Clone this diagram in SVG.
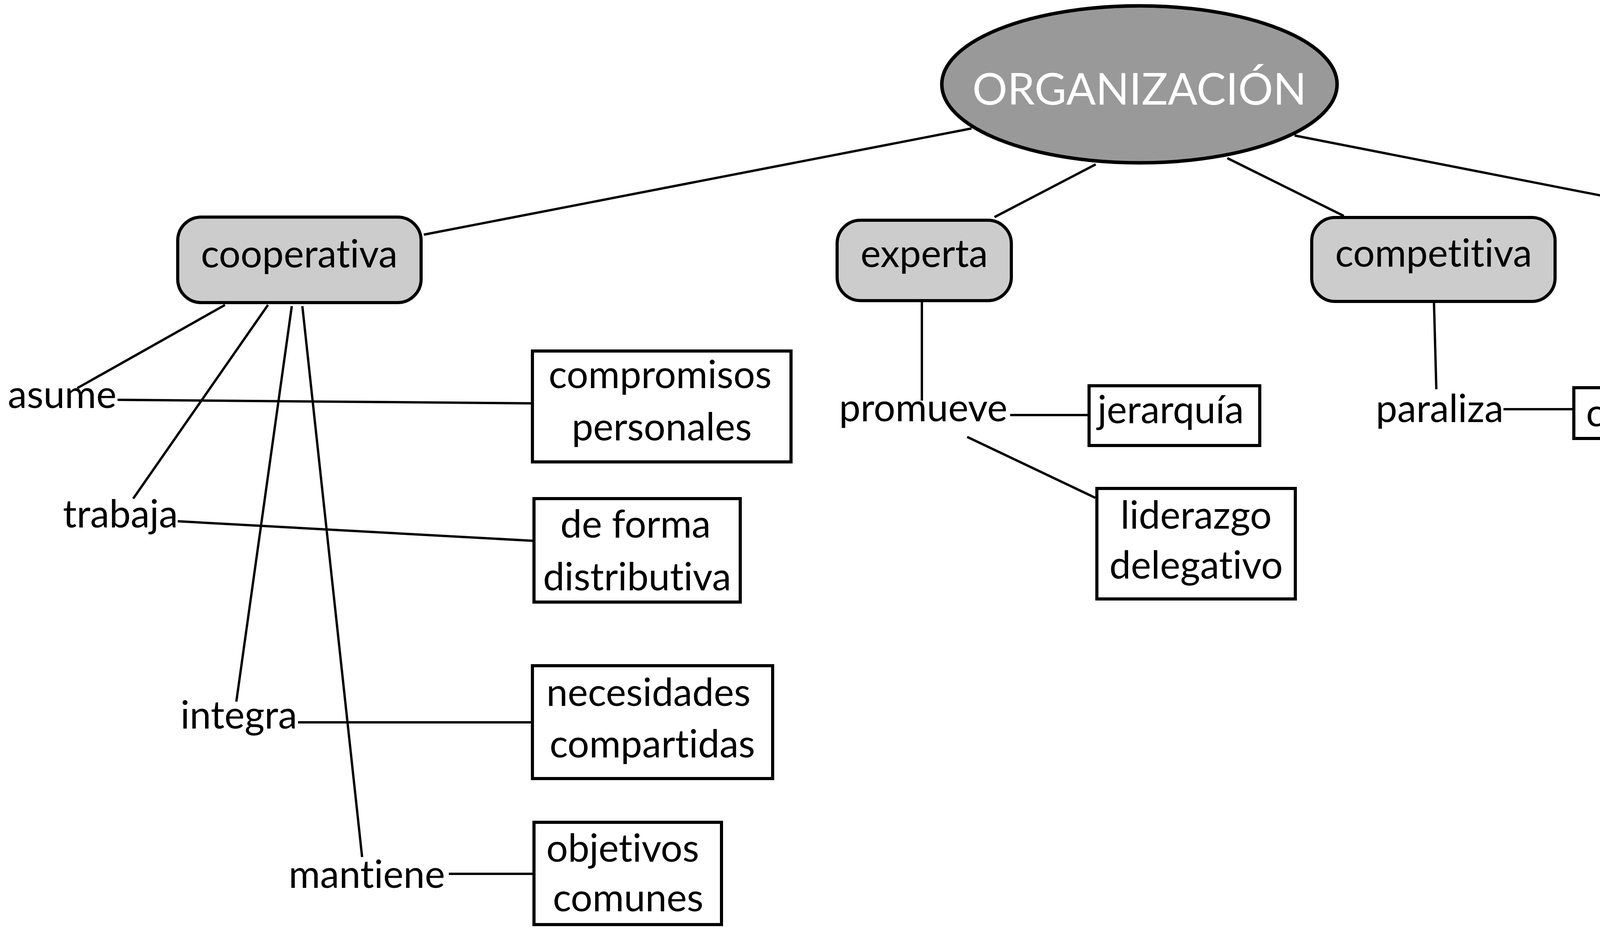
<svg xmlns="http://www.w3.org/2000/svg" width="5885" height="2387" viewBox="0 0 5885 2387">
<style>
.t{font-family:Lato,"Noto Sans","Liberation Sans",sans-serif;font-size:98px;fill:#000;font-variant-ligatures:none;font-feature-settings:"liga" 0,"clig" 0}
.c{text-anchor:middle}
.main{fill:#cccccc;stroke:#000;stroke-width:8}
.box{fill:#fff;stroke:#000;stroke-width:8}
.ln{stroke:#000;stroke-width:6;fill:none}
</style>
<rect width="5885" height="2387" fill="#fff"/>
<g id="connectors">
<line class="ln" x1="2487" y1="329" x2="1085" y2="601"/>
<line class="ln" x1="2805" y1="421" x2="2546" y2="556"/>
<line class="ln" x1="3142" y1="405" x2="3440" y2="553"/>
<line class="ln" x1="3314" y1="347" x2="4584" y2="596"/>
<line class="ln" x1="576" y1="781" x2="198" y2="994"/>
<line class="ln" x1="686" y1="781" x2="341" y2="1277"/>
<line class="ln" x1="747" y1="784" x2="605" y2="1797"/>
<line class="ln" x1="774" y1="784" x2="927" y2="2195"/>
<line class="ln" x1="301" y1="1024" x2="1359" y2="1033"/>
<line class="ln" x1="455" y1="1335" x2="1363" y2="1385"/>
<line class="ln" x1="763" y1="1850" x2="1359" y2="1850"/>
<line class="ln" x1="1149" y1="2238" x2="1366" y2="2238"/>
<line class="ln" x1="2360" y1="774" x2="2360" y2="1026"/>
<line class="ln" x1="2586" y1="1063" x2="2784" y2="1063"/>
<line class="ln" x1="2476" y1="1119" x2="2804" y2="1275"/>
<line class="ln" x1="3671" y1="776" x2="3677" y2="997"/>
<line class="ln" x1="3849" y1="1048" x2="4025" y2="1048"/>
<line class="ln" x1="4918" y1="768" x2="4918" y2="997"/>
<line class="ln" x1="5138" y1="1032" x2="5299" y2="1043"/>
</g>
<g id="organizacion">
<ellipse cx="2917" cy="216" rx="506" ry="201" fill="#999999" stroke="#000" stroke-width="9"/>
<text class="t c" x="2917" y="268" style="font-size:112px;fill:#fff">ORGANIZACIÓN</text>
</g>
<g id="cooperativa">
<rect class="main" x="455" y="556" width="623" height="219" rx="60"/>
<text class="t c" x="766" y="685">cooperativa</text>
</g>
<g id="experta">
<rect class="main" x="2143" y="564" width="446" height="206" rx="60"/>
<text class="t c" x="2366" y="684">experta</text>
</g>
<g id="competitiva">
<rect class="main" x="3358" y="557" width="623" height="215" rx="60"/>
<text class="t c" x="3670" y="683">competitiva</text>
</g>
<g id="individualista">
<rect class="main" x="4585" y="567" width="679" height="197" rx="60"/>
<text class="t c" x="4924" y="696">individualista</text>
</g>
<g id="asume"><text class="t" x="20" y="1045">asume</text></g>
<g id="trabaja"><text class="t" x="161" y="1351">trabaja</text></g>
<g id="integra"><text class="t" x="462" y="1866">integra</text></g>
<g id="mantiene1"><text class="t" x="739" y="2274">mantiene</text></g>
<g id="promueve"><text class="t" x="2148" y="1079">promueve</text></g>
<g id="paraliza"><text class="t" x="3522" y="1081">paraliza</text></g>
<g id="mantiene2"><text class="t" x="4731" y="1076">mantiene</text></g>
<g id="compromisos">
<rect class="box" x="1363" y="899" width="662" height="284"/>
<text class="t c" x="1690" y="994">compromisos</text>
<text class="t c" x="1694" y="1128">personales</text>
</g>
<g id="deforma">
<rect class="box" x="1367" y="1277" width="528" height="265"/>
<text class="t c" x="1627" y="1377">de forma</text>
<text class="t c" x="1631" y="1512">distributiva</text>
</g>
<g id="necesidades">
<rect class="box" x="1363" y="1705" width="615" height="289"/>
<text class="t c" x="1660" y="1808">necesidades</text>
<text class="t c" x="1670" y="1940">compartidas</text>
</g>
<g id="objetivos">
<rect class="box" x="1367" y="2106" width="480" height="262"/>
<text class="t c" x="1594" y="2207">objetivos</text>
<text class="t c" x="1608" y="2334">comunes</text>
</g>
<g id="jerarquia">
<rect class="box" x="2788" y="988" width="437" height="153"/>
<text class="t c" x="2997" y="1084">jerarquía</text>
</g>
<g id="delegativo">
<rect class="box" x="2808" y="1251" width="508" height="283"/>
<text class="t c" x="3062" y="1354">liderazgo</text>
<text class="t c" x="3062" y="1482">delegativo</text>
</g>
<g id="comun">
<rect class="box" x="4029" y="993" width="352" height="130"/>
<text class="t c" x="4206" y="1092">común</text>
</g>
<g id="unipersonal">
<rect class="box" x="5303" y="895" width="553" height="291"/>
<text class="t c" x="5582" y="1000">liderazgo</text>
<text class="t c" x="5583" y="1132">unipersonal</text>
</g>
</svg>
